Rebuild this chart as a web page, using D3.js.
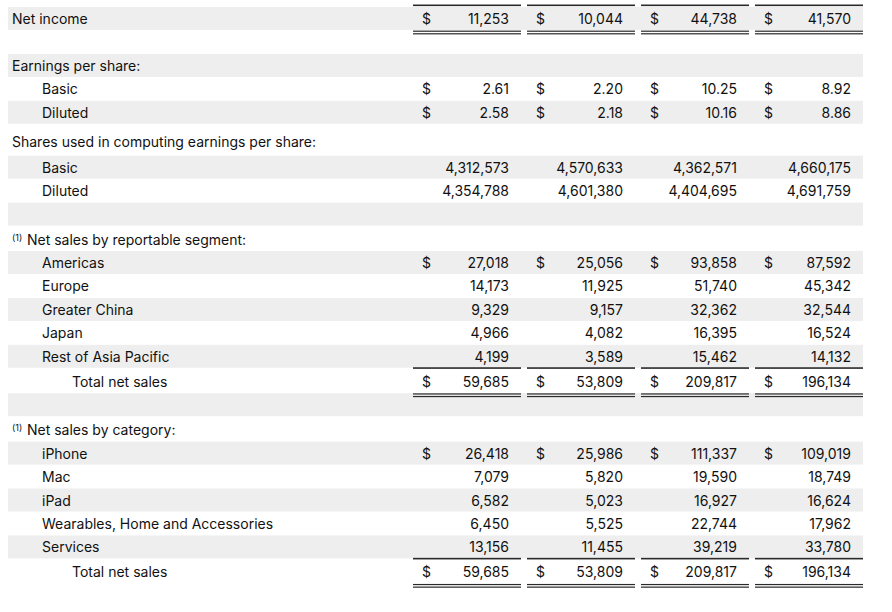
<!DOCTYPE html>
<html>
<head>
<meta charset="utf-8">
<script src="https://cdn.jsdelivr.net/npm/d3@7"></script>
<style>
  body { margin: 0; background: #fff; }
  text { font-family: Inter, "Noto Sans", sans-serif; font-size: 14px; fill: #111; }
</style>
</head>
<body>
<svg id="chart" width="892" height="612"></svg>
<script>
// row labels, top to bottom ("" = spacer row)
var rowLabels = ["Net income", "", "Earnings per share:", "Basic", "Diluted",
  "Shares used in computing earnings per share:", "Basic", "Diluted", "",
  "Net sales by reportable segment:", "Americas", "Europe", "Greater China", "Japan",
  "Rest of Asia Pacific", "Total net sales", "",
  "Net sales by category:", "iPhone", "Mac", "iPad", "Wearables, Home and Accessories",
  "Services", "Total net sales"];
var rowIndent = [0,0,0,1,1,0,1,1,0,0,1,1,1,1,1,2,0,0,1,1,1,1,1,2];
var noteRows = [9, 17];          // rows with the (1) footnote mark
var dollarRows = [0, 3, 4, 10, 15, 18, 23];
var totalRows = [0, 15, 23];     // single rule above, double rule below
var epsRows = [3, 4];

// four value columns
var col1 = [11253,null,null,2.61,2.58,null,4312573,4354788,null,null,27018,14173,9329,4966,4199,59685,null,null,26418,7079,6582,6450,13156,59685];
var col2 = [10044,null,null,2.20,2.18,null,4570633,4601380,null,null,25056,11925,9157,4082,3589,53809,null,null,25986,5820,5023,5525,11455,53809];
var col3 = [44738,null,null,10.25,10.16,null,4362571,4404695,null,null,93858,51740,32362,16395,15462,209817,null,null,111337,19590,16927,22744,39219,209817];
var col4 = [41570,null,null,8.92,8.86,null,4660175,4691759,null,null,87592,45342,32544,16524,14132,196134,null,null,109019,18749,16624,17962,33780,196134];
var columns = [col1, col2, col3, col4];

var svg = d3.select("#chart");

// vertical layout: even pitch, a little extra room above some rows
var pitch = 23.45;
var extraGap = {5: 5.5, 6: 2.5, 9: 1.5, 15: 1.5, 17: 1.5, 23: 1.5};
var cy = [];
rowLabels.forEach(function (d, i) {
  cy[i] = i === 0 ? 19 : cy[i - 1] + pitch + (extraGap[i] || 0);
});

var x = d3.scaleBand()
  .domain(d3.range(columns.length))
  .range([413, 863])
  .paddingInner(0.0526);

var fmtInt = d3.format(","), fmtEps = d3.format(",.2f");

// zebra bands
svg.append("g").selectAll("rect")
  .data(d3.range(rowLabels.length).filter(function (i) { return i % 2 === 0; }))
  .join("rect")
  .attr("x", 8).attr("width", 855)
  .attr("y", function (i) { return cy[i] - 12; })
  .attr("height", 23)
  .attr("fill", "#eeeeee");

// labels
var lab = svg.append("g");
rowLabels.forEach(function (d, i) {
  if (!d) return;
  var isNote = noteRows.indexOf(i) >= 0;
  if (isNote) {
    lab.append("text").attr("x", 12).attr("y", cy[i] + 1)
      .style("font-size", "9px").text("(1)");
  }
  lab.append("text")
    .attr("x", isNote ? 27 : 12 + rowIndent[i] * 30)
    .attr("y", cy[i] + 5)
    .text(d);
});

// values
var vals = svg.append("g");
columns.forEach(function (col, c) {
  var x0 = x(c);
  col.forEach(function (v, i) {
    if (v === null) return;
    if (dollarRows.indexOf(i) >= 0) {
      vals.append("text").attr("x", x0 + 9).attr("y", cy[i] + 5).text("$");
    }
    vals.append("text")
      .attr("x", x0 + 96).attr("y", cy[i] + 5)
      .attr("text-anchor", "end")
      .text(epsRows.indexOf(i) >= 0 ? fmtEps(v) : fmtInt(v));
  });
});

// rules around totals
var rules = svg.append("g").attr("fill", "#2a2a2a");
totalRows.forEach(function (i) {
  d3.range(columns.length).forEach(function (c) {
    var x0 = x(c), w = x.bandwidth();
    rules.append("rect").attr("x", x0).attr("width", w).attr("y", cy[i] - 14.5).attr("height", 1.6);
    rules.append("rect").attr("x", x0).attr("width", w).attr("y", cy[i] + 11.6).attr("height", 1.2);
    rules.append("rect").attr("x", x0).attr("width", w).attr("y", cy[i] + 14.2).attr("height", 1.2);
  });
});
</script>
</body>
</html>
